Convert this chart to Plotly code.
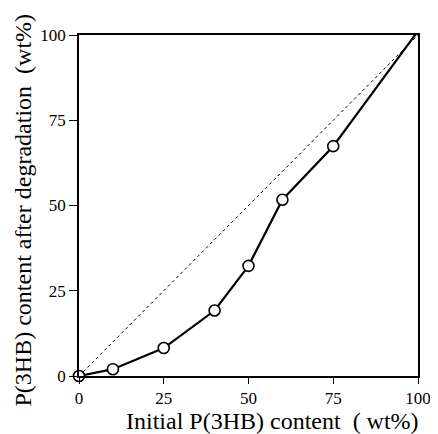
import plotly.graph_objects as go

initial = [0, 10, 25, 40, 50, 60, 75, 99.5]
after = [0, 2, 8.2, 19.2, 32.3, 51.7, 67.4, 100.5]
diag_x = [0, 100]
diag_y = [0, 100]
ticks = [0, 25, 50, 75, 100]
tick_labels = ["0", "25", "50", "75", "100"]
x_title = "Initial P(3HB) content &nbsp;( wt%)"
y_title = "P(3HB) content after degradation &nbsp;(wt%)"

fig = go.Figure()
fig.add_trace(go.Scatter(x=diag_x, y=diag_y, mode="lines",
                         line=dict(color="black", width=1, dash="dot"),
                         showlegend=False, cliponaxis=False))
fig.add_trace(go.Scatter(x=initial, y=after, mode="lines+markers",
                         line=dict(color="black", width=2.2),
                         marker=dict(size=11, color="white", line=dict(color="black", width=1.6)),
                         showlegend=False, cliponaxis=False))

font = "Liberation Serif"
# page body has an 8px margin; size and margins compensate for it
fig.update_layout(
    width=430, height=426,
    margin=dict(l=71, r=20, t=27, b=58, autoexpand=False),
    paper_bgcolor="white", plot_bgcolor="white",
    font=dict(family=font, size=17, color="black"),
)
for upd, tl in ((fig.update_xaxes, 6), (fig.update_yaxes, 8)):
    upd(range=[0, 100], tickmode="array", tickvals=ticks, ticktext=tick_labels,
        showgrid=False, zeroline=False, showline=True, linecolor="black",
        linewidth=1.5, mirror=True, ticks="outside", ticklen=tl,
        tickwidth=1.3, tickcolor="black", automargin=False,
        tickfont=dict(family=font, size=17, color="black"))

fig.add_annotation(text=x_title, xref="paper", yref="paper", x=0.5, y=0,
                   xanchor="center", yanchor="middle", xshift=24, yshift=-45,
                   showarrow=False, font=dict(family=font, size=24, color="black"))
fig.add_annotation(text=y_title, xref="paper", yref="paper", x=0, y=0.5,
                   xanchor="center", yanchor="middle", xshift=-57, yshift=-5,
                   textangle=-90, showarrow=False,
                   font=dict(family=font, size=24, color="black"))
fig.write_html("out.html")
